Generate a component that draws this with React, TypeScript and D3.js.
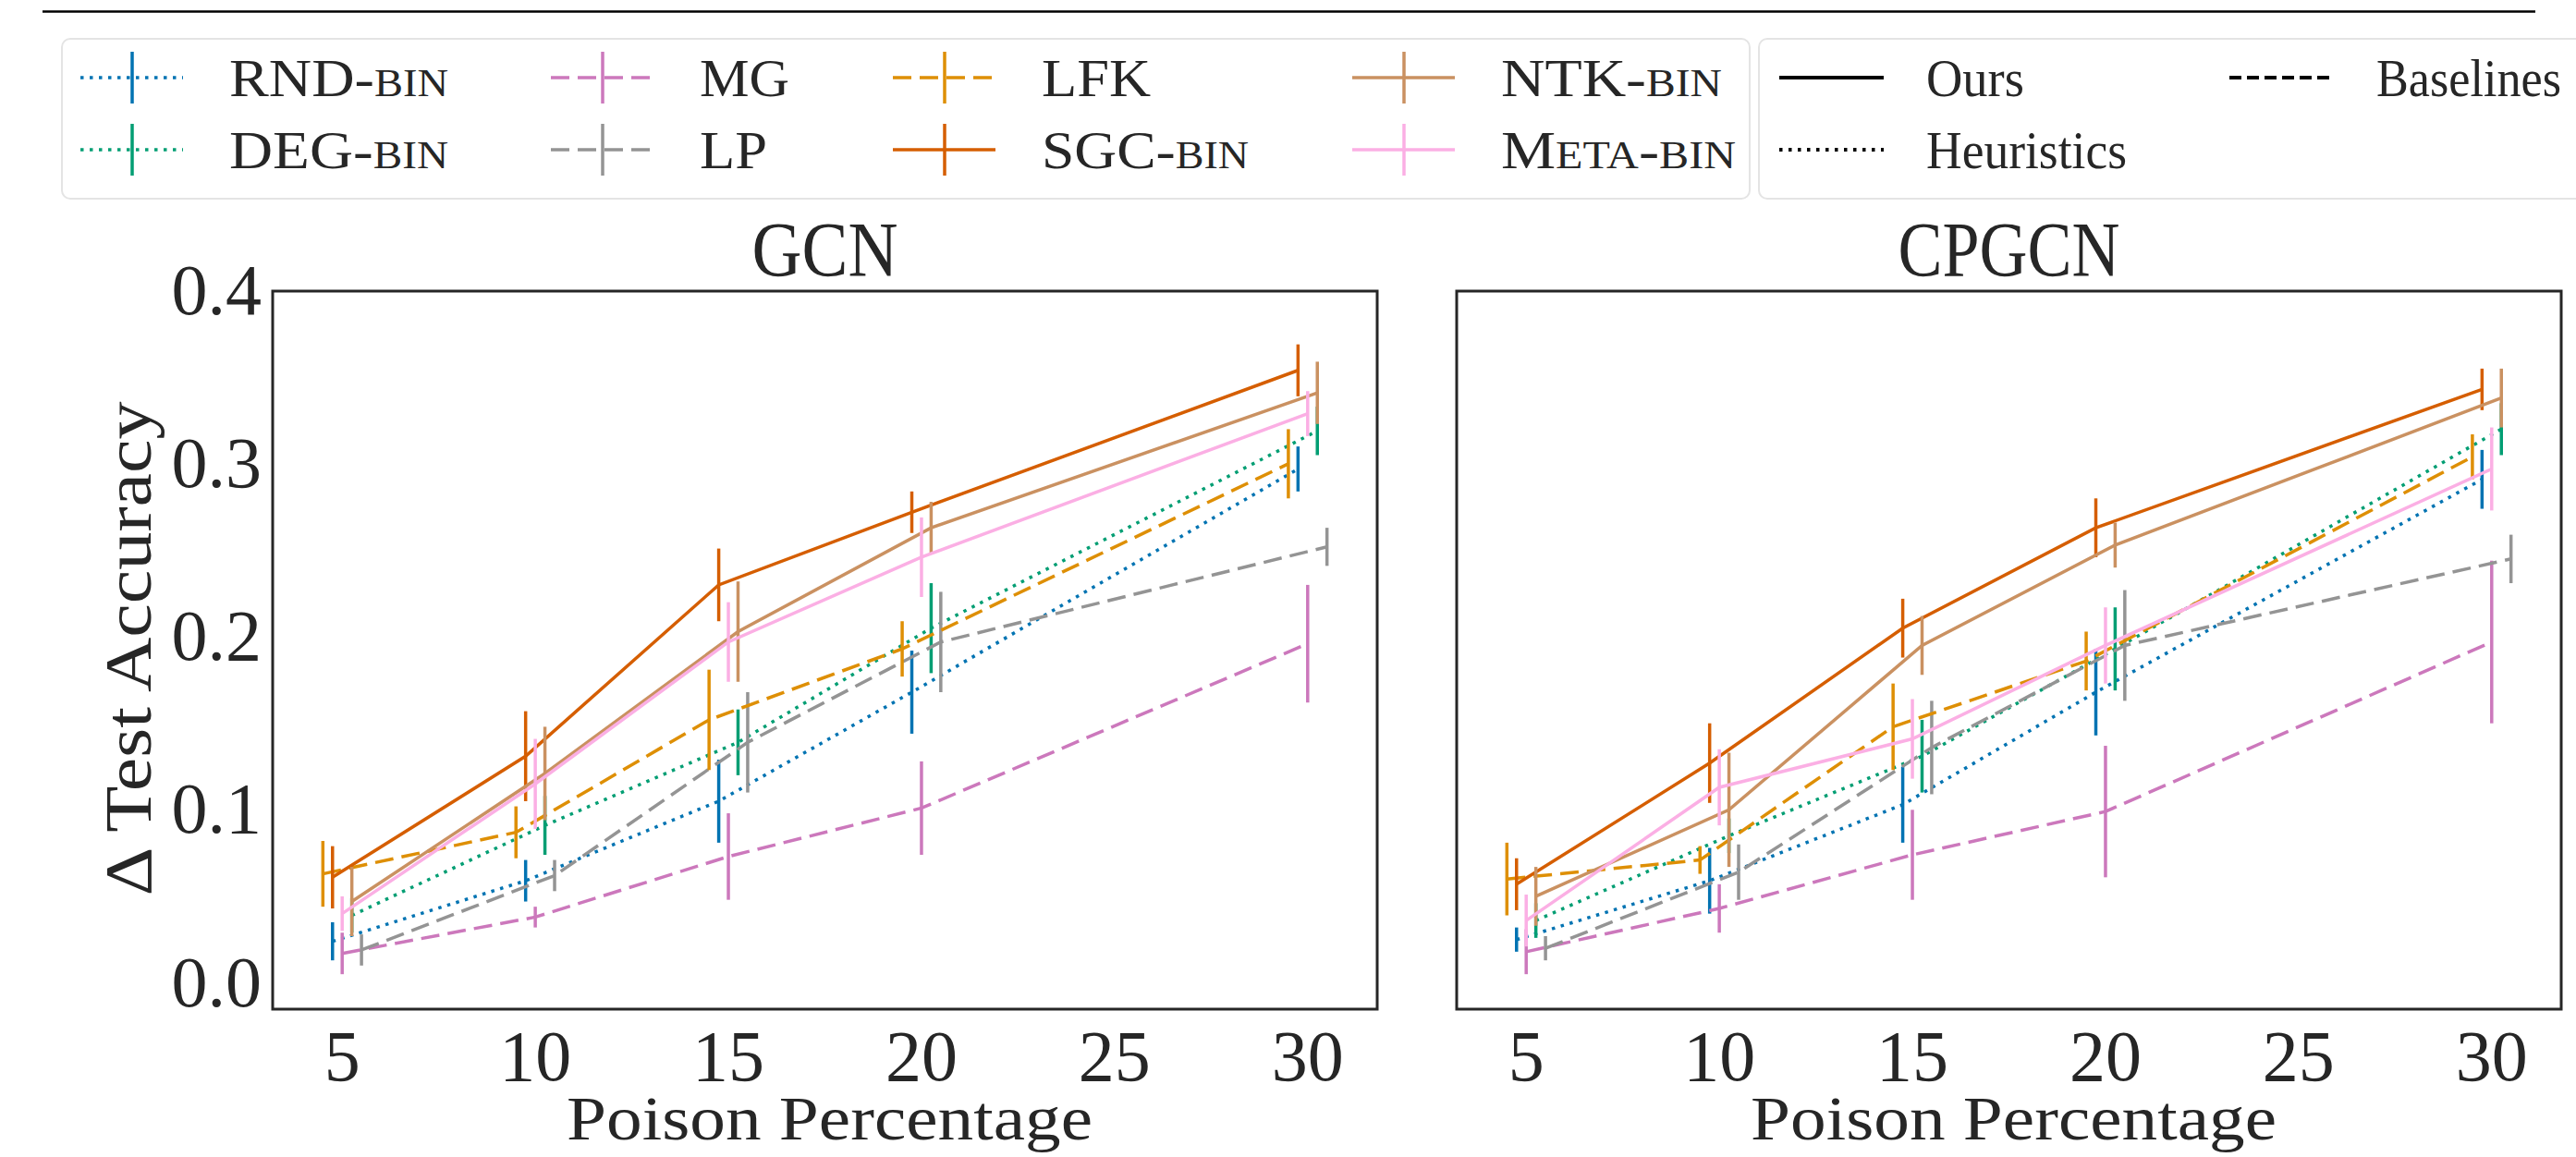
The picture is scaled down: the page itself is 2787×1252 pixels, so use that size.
import React from 'react';
import * as d3 from 'd3';

// poison percentages that were run, and the axis ticks
const poisonLevels = [5, 10, 15, 20, 30];
const xTickValues = [5, 10, 15, 20, 25, 30];
const yTickValues = [0.0, 0.1, 0.2, 0.3, 0.4];

// methods, in legend order (column by column)
const methodNames = ['RND-bin', 'DEG-bin', 'MG', 'LP', 'LFK', 'SGC-bin', 'NTK-bin', 'Meta-bin'];
const methodKinds = ['heuristic', 'heuristic', 'baseline', 'baseline', 'baseline', 'ours', 'ours', 'ours'];
const methodColors = ['#0173b2', '#029e73', '#cc78bc', '#949494', '#de8f05', '#d55e00', '#ca9161', '#fbafe4'];
// small dodge (in poison %) so that the error bars don't sit on top of each other
const methodDodge = [-0.25, 0.25, 0, 0.5, -0.5, -0.25, 0.25, 0];

// GCN: mean drop in test accuracy and its spread
const gcnRnd = [0.023, 0.058, 0.104, 0.167, 0.296];
const gcnRndErr = [0.011, 0.012, 0.024, 0.024, 0.013];
const gcnDeg = [0.038, 0.090, 0.138, 0.204, 0.318];
const gcnDegErr = [0.010, 0.017, 0.019, 0.026, 0.014];
const gcnMg = [0.016, 0.037, 0.072, 0.100, 0.195];
const gcnMgErr = [0.012, 0.006, 0.025, 0.027, 0.034];
const gcnLp = [0.018, 0.061, 0.138, 0.196, 0.251];
const gcnLpErr = [0.009, 0.009, 0.029, 0.029, 0.011];
const gcnLfk = [0.062, 0.086, 0.151, 0.192, 0.299];
const gcnLfkErr = [0.019, 0.015, 0.029, 0.016, 0.020];
const gcnSgc = [0.060, 0.130, 0.229, 0.271, 0.353];
const gcnSgcErr = [0.018, 0.026, 0.021, 0.012, 0.015];
const gcnNtk = [0.046, 0.120, 0.202, 0.262, 0.340];
const gcnNtkErr = [0.020, 0.027, 0.029, 0.015, 0.018];
const gcnMeta = [0.039, 0.114, 0.196, 0.245, 0.328];
const gcnMetaErr = [0.010, 0.026, 0.023, 0.023, 0.013];

// CPGCN
const cpgcnRnd = [0.024, 0.058, 0.102, 0.167, 0.290];
const cpgcnRndErr = [0.007, 0.019, 0.022, 0.025, 0.017];
const cpgcnDeg = [0.035, 0.084, 0.130, 0.192, 0.319];
const cpgcnDegErr = [0.010, 0.010, 0.021, 0.024, 0.015];
const cpgcnMg = [0.017, 0.042, 0.073, 0.098, 0.196];
const cpgcnMgErr = [0.013, 0.014, 0.026, 0.038, 0.047];
const cpgcnLp = [0.019, 0.063, 0.135, 0.194, 0.244];
const cpgcnLpErr = [0.007, 0.016, 0.027, 0.032, 0.014];
const cpgcnLfk = [0.059, 0.070, 0.147, 0.185, 0.303];
const cpgcnLfkErr = [0.021, 0.008, 0.025, 0.017, 0.013];
const cpgcnSgc = [0.056, 0.126, 0.204, 0.262, 0.342];
const cpgcnSgcErr = [0.015, 0.023, 0.017, 0.017, 0.012];
const cpgcnNtk = [0.049, 0.099, 0.194, 0.252, 0.337];
const cpgcnNtkErr = [0.017, 0.033, 0.017, 0.013, 0.017];
const cpgcnMeta = [0.035, 0.112, 0.140, 0.194, 0.296];
const cpgcnMetaErr = [0.015, 0.022, 0.023, 0.022, 0.024];

const kindNames = ['Ours', 'Baselines', 'Heuristics'];
const kindKeys = ['ours', 'baseline', 'heuristic'];

const panels = [
  {
    title: 'GCN',
    means: [gcnRnd, gcnDeg, gcnMg, gcnLp, gcnLfk, gcnSgc, gcnNtk, gcnMeta],
    errs: [gcnRndErr, gcnDegErr, gcnMgErr, gcnLpErr, gcnLfkErr, gcnSgcErr, gcnNtkErr, gcnMetaErr],
  },
  {
    title: 'CPGCN',
    means: [cpgcnRnd, cpgcnDeg, cpgcnMg, cpgcnLp, cpgcnLfk, cpgcnSgc, cpgcnNtk, cpgcnMeta],
    errs: [cpgcnRndErr, cpgcnDegErr, cpgcnMgErr, cpgcnLpErr, cpgcnLfkErr, cpgcnSgcErr, cpgcnNtkErr, cpgcnMetaErr],
  },
];

const FONT = "'Liberation Serif', 'DejaVu Serif', serif";
const INK = '#262626';
const W = 2787;
const H = 1252;

const dashFor = (kind: string) =>
  kind === 'heuristic' ? '3.5,6.5' : kind === 'baseline' ? '20,9' : undefined;

// lower-case letters are drawn as small capitals, like \textsc in the paper
const SmallCaps = ({ label, x, y, size, small, width }: any) => {
  const parts = label.match(/[a-z]+|[^a-z]+/g) || [];
  return (
    <text x={x} y={y} fontSize={size} fill={INK} fontFamily={FONT}
      textLength={width} lengthAdjust="spacingAndGlyphs">
      {parts.map((p: string, i: number) =>
        /[a-z]/.test(p)
          ? <tspan key={i} fontSize={small}>{p.toUpperCase()}</tspan>
          : <tspan key={i}>{p}</tspan>)}
    </text>
  );
};

const Panel = ({ panel, left, showY }: any) => {
  const top = 315, bottom = 1092, width = 1195;
  const x = d3.scaleLinear().domain([3.2, 31.8]).range([left, left + width]);
  const y = d3.scaleLinear().domain([-0.0162, 0.3988]).range([bottom, top]);
  const line = d3.line<number[]>().x(d => x(d[0])).y(d => y(d[1]));
  const cx = left + width / 2;

  return (
    <g>
      {panel.means.map((vals: number[], m: number) => {
        const pts = vals.map((v, i) => [poisonLevels[i] + methodDodge[m], v]);
        return (
          <g key={m} stroke={methodColors[m]} strokeWidth={3.5} fill="none">
            <path d={line(pts) || ''} strokeDasharray={dashFor(methodKinds[m])} />
            {pts.map((p, i) => (
              <line key={i} x1={x(p[0])} x2={x(p[0])}
                y1={y(p[1] - panel.errs[m][i])} y2={y(p[1] + panel.errs[m][i])} />
            ))}
          </g>
        );
      })}
      <rect x={left} y={top} width={width} height={bottom - top} fill="none" stroke={INK} strokeWidth={3} />

      {xTickValues.map(t => (
        <text key={t} x={x(t)} y={1169} fontSize={78} textAnchor="middle" fill={INK} fontFamily={FONT}>{t}</text>
      ))}
      {showY && yTickValues.map(t => (
        <text key={t} x={left - 12} y={y(t) + 27} fontSize={78} textAnchor="end" fill={INK} fontFamily={FONT}>
          {d3.format('.1f')(t)}
        </text>
      ))}

      <text x={cx} y={299} fontSize={84} textAnchor="middle" fill={INK} fontFamily={FONT}
        textLength={panel.title.length > 3 ? 240 : 158} lengthAdjust="spacingAndGlyphs">{panel.title}</text>
      <text x={cx + 5} y={1233} fontSize={68} textAnchor="middle" fill={INK} fontFamily={FONT}
        textLength={569} lengthAdjust="spacingAndGlyphs">Poison Percentage</text>
      {showY && (
        <text transform={`translate(163, 702) rotate(-90)`} fontSize={72} textAnchor="middle" fill={INK}
          fontFamily={FONT} textLength={535} lengthAdjust="spacingAndGlyphs">Δ Test Accuracy</text>
      )}
    </g>
  );
};

const Legend = () => {
  const rows = [84, 162];
  const cols = [87, 596, 966, 1463];
  const labelWidths = [237, 237, 97, 73, 118, 224, 239, 254];
  const kindCols = [1925, 2412];
  const kindWidths = [106, 200, 217];
  return (
    <g>
      <rect x={67} y={42} width={1826} height={173} rx={9} fill="#fff" stroke="#e4e4e4" strokeWidth={2} />
      <rect x={1903} y={42} width={940} height={173} rx={9} fill="#fff" stroke="#e4e4e4" strokeWidth={2} />
      {methodNames.map((name, i) => {
        const x0 = cols[Math.floor(i / 2)];
        const yy = rows[i % 2];
        return (
          <g key={name}>
            <g stroke={methodColors[i]} strokeWidth={3.5}>
              <line x1={x0} x2={x0 + 111} y1={yy} y2={yy} strokeDasharray={dashFor(methodKinds[i])} />
              <line x1={x0 + 56} x2={x0 + 56} y1={yy - 28} y2={yy + 28} />
            </g>
            <SmallCaps label={name} x={x0 + 161} y={yy + 20} size={58} small={42} width={labelWidths[i]} />
          </g>
        );
      })}
      {kindNames.map((name, i) => {
        const x0 = kindCols[i === 1 ? 1 : 0];
        const yy = rows[i === 2 ? 1 : 0];
        return (
          <g key={name}>
            <line x1={x0} x2={x0 + 113} y1={yy} y2={yy} stroke="#000" strokeWidth={4}
              strokeDasharray={kindKeys[i] === 'baseline' ? '13,6' : dashFor(kindKeys[i])} />
            <text x={x0 + 159} y={yy + 20} fontSize={58} fill={INK} fontFamily={FONT}
              textLength={kindWidths[i]} lengthAdjust="spacingAndGlyphs">{name}</text>
          </g>
        );
      })}
    </g>
  );
};

const App = () => (
  <svg width={W} height={H} viewBox={`0 0 ${W} ${H}`}
    style={{ position: 'absolute', left: 0, top: 0, background: '#fff' }}>
    <line x1={46} x2={2743} y1={12.5} y2={12.5} stroke="#000" strokeWidth={2.5} />
    <Legend />
    <Panel panel={panels[0]} left={295} showY={true} />
    <Panel panel={panels[1]} left={1576} showY={false} />
  </svg>
);

export default App;
